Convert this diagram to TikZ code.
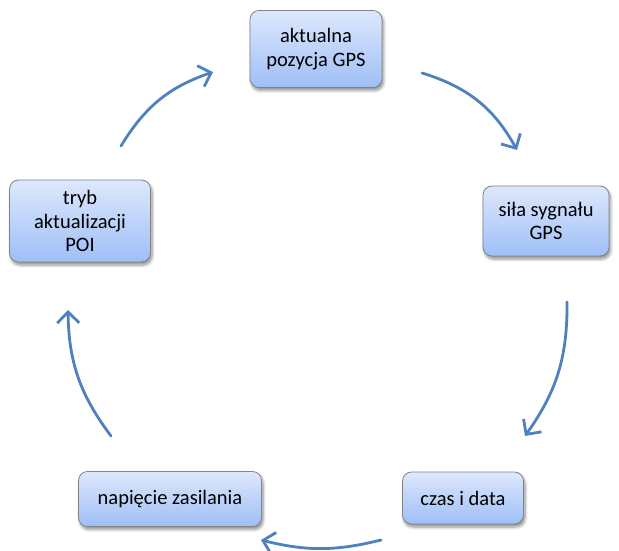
\documentclass[tikz,border=0pt]{standalone}
\usepackage{fontspec}
\setmainfont{Carlito}
\usetikzlibrary{arrows.meta,shadows.blur}
\definecolor{arrblue}{RGB}{79,129,189}
\definecolor{boxtop}{RGB}{222,232,252}
\definecolor{boxbot}{RGB}{158,191,246}
\definecolor{boxedge}{RGB}{130,130,135}
\tikzset{
  cyclebox/.style={draw=boxedge, line width=0.8pt, rounded corners=9pt,
    top color=boxtop, bottom color=boxbot, align=center,
    font=\fontsize{20.5}{23.5}\selectfont, inner sep=0pt,
    blur shadow={shadow blur steps=6, shadow xshift=1.5pt, shadow yshift=-3pt, shadow opacity=45, shadow blur radius=3pt}},
  cyclearrow/.style={draw=arrblue, line width=2.8pt, line cap=round,
    -{Straight Barb[length=11pt,width=22pt,line width=2.8pt]}}
}
\begin{document}
\begin{tikzpicture}[x=1pt,y=-1pt]
\useasboundingbox (0,0) rectangle (619,551);
\node[cyclebox, minimum width=132pt, minimum height=77pt] (gps) at (316,49) {aktualna\\pozycja GPS};
\node[cyclebox, minimum width=126pt, minimum height=70pt] (sila) at (546,221) {siła sygnału\\GPS};
\node[cyclebox, minimum width=121pt, minimum height=52pt] (czas) at (463,498) {czas i data};
\node[cyclebox, minimum width=183pt, minimum height=55pt] (nap) at (170,499) {napięcie zasilania};
\node[cyclebox, minimum width=141pt, minimum height=82pt] (tryb) at (80,221) {tryb\\aktualizacji\\POI};
\coordinate (a1s) at (422,73);
\coordinate (a1e) at (517,150);
\coordinate (a2s) at (567,302);
\coordinate (a2e) at (525,436);
\coordinate (a3s) at (381,540);
\coordinate (a3e) at (261,540);
\coordinate (a4s) at (111,436);
\coordinate (a4e) at (68,310);
\coordinate (a5s) at (121,146);
\coordinate (a5e) at (213,72);
\draw[cyclearrow] (a1s) to[bend left=22] (a1e);
\draw[cyclearrow] (a2s) to[bend left=18] (a2e);
\draw[cyclearrow] (a3s) to[bend left=14] (a3e);
\draw[cyclearrow] (a4s) to[bend left=18] (a4e);
\draw[cyclearrow] (a5s) to[bend left=20] (a5e);
\end{tikzpicture}
\end{document}
